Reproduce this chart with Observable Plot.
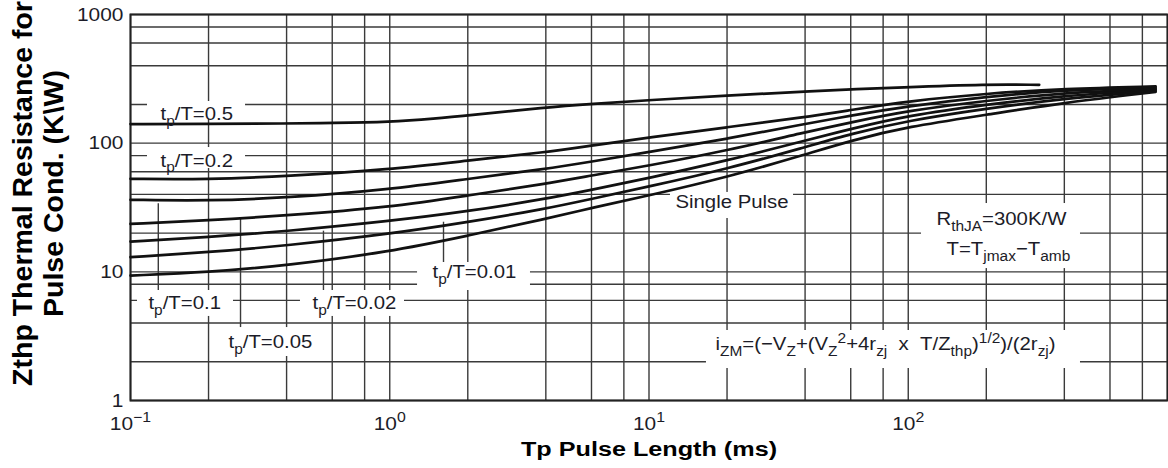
<!DOCTYPE html>
<html><head><meta charset="utf-8">
<script src="https://cdn.jsdelivr.net/npm/d3@7"></script>
<script src="https://cdn.jsdelivr.net/npm/@observablehq/plot@0.6"></script>
<style>html,body{margin:0;padding:0;background:#fff;} #chart svg{display:block}</style>
</head><body><div id="chart"></div>
<script>
// ---------- data ----------
const pulseLength = [0.1, 0.2, 0.4, 1, 2, 4, 6, 10, 20, 40, 60, 100, 200, 400, 900];
const z02     = [52.8, 52.2, 55.3, 62.4, 73.2, 85, 95.8, 110.6, 133, 159, 181, 212, 243, 265, 276];
const z01     = [36.3, 35.6, 37.6, 43.6, 52.8, 63.1, 71.9, 85.4, 108, 141, 164, 194, 230, 259, 270];
const z005    = [23.6, 25.1, 27.4, 31.8, 39.2, 48.3, 56, 66.9, 87.6, 121.5, 145, 179, 214, 247, 264];
const z002    = [17.2, 18.6, 20.7, 24.8, 29.5, 36.9, 43.4, 53.6, 73.2, 104.7, 129, 164, 199.5, 234, 260];
const z001    = [13, 14.2, 16, 19.7, 24.3, 30.9, 36.9, 46, 63.1, 93, 118, 150, 186, 222, 255];
const zSingle = [9.36, 9.93, 11.2, 14.3, 19.1, 25.8, 31.4, 39.2, 54.3, 81.5, 104.7, 134.6, 166, 207, 250];
const pulseLength05 = [0.1, 0.2, 0.4, 0.6, 1, 1.5, 2, 4, 6, 10, 20, 40, 100, 200, 320];
const z05     = [140.7, 141.2, 142.2, 143.3, 146, 155, 164, 190, 202, 216, 234, 253, 273, 287, 284];

const xTicks = [0.1, 1, 10, 100];
const xTickLabels = ["10^{−1}", "10^{0}", "10^{1}", "10^{2}"];
const yTicks = [1, 10, 100, 1000];
const yTickLabels = ["1", "10", "100", "1000"];
const xGrid = [0.1, 0.2, 0.4, 0.6, 0.8, 1, 2, 4, 6, 8, 10, 20, 40, 60, 80, 100, 200, 400, 600, 800, 1000];
const yGrid = [1, 2, 4, 6, 8, 10, 20, 40, 60, 80, 100, 200, 400, 600, 800, 1000];

// annotations (data coordinates)
const labelText = ["t_{p}/T=0.5", "t_{p}/T=0.2", "t_{p}/T=0.1", "t_{p}/T=0.05", "t_{p}/T=0.02", "t_{p}/T=0.01",
  "Single Pulse", "R_{thJA}=300K/W", "T=T_{jmax}−T_{amb}",
  "i_{ZM}=(−V_{Z}+(V_{Z}^{2}+4r_{zj}\u00a0\u00a0x\u00a0\u00a0T/Z_{thp})^{1/2})/(2r_{zj})"];
const labelX = [0.1305, 0.1305, 0.1173, 0.2388, 0.5035, 1.462, 12.65, 128.5, 140.5, 18.05];
const labelY = [167, 72.7, 5.72, 2.824, 5.72, 9.88, 34.6, 25.5, 14.9, 2.724];
const boxX1 = [0.1163, 0.1163, 0.1064, 0.2346, 0.4525, 1.28, 12.1, 112.5, 16.66];
const boxX2 = [0.2778, 0.2778, 0.2496, 0.522, 1.14, 3.49, 36.1, 461.7, 461.7];
const boxY1 = [152.7, 63.5, 4.5, 2.198, 4.5, 7.16, 25.97, 10.6, 1.773];
const boxY2 = [210.8, 92.5, 7.16, 3.69, 7.16, 11.82, 41.4, 33.96, 3.5];
const leaderX = [0.128, 0.2657, 0.555, 1.612];
const leaderTop = [33.8, 25.8, 20.7, 24.3];
const leaderBottom = [7.16, 3.69, 7.16, 11.82];

// ---------- build tables ----------
const seriesDefs = [
  {name: "0.5", t: pulseLength05, z: z05},
  {name: "0.2", t: pulseLength, z: z02},
  {name: "0.1", t: pulseLength, z: z01},
  {name: "0.05", t: pulseLength, z: z005},
  {name: "0.02", t: pulseLength, z: z002},
  {name: "0.01", t: pulseLength, z: z001},
  {name: "single", t: pulseLength, z: zSingle}
];
const curves = [];
seriesDefs.forEach(s => s.t.forEach((t, i) => curves.push({series: s.name, t, z: s.z[i]})));
const boxes = boxX1.map((x1, i) => ({x1, x2: boxX2[i], y1: boxY1[i], y2: boxY2[i]}));
const leaders = leaderX.map((x, i) => ({x, y1: leaderBottom[i], y2: leaderTop[i]}));

const gridColor = "#3a3a3a";
const chart = Plot.plot({
  width: 1168, height: 468,
  marginLeft: 130, marginRight: 1, marginTop: 14, marginBottom: 68,
  style: {fontFamily: "'Liberation Sans', Arial, Helvetica, sans-serif", fontSize: "19px", color: "#1c1c28", background: "white"},
  x: {type: "log", domain: [0.1, 1000], ticks: xTicks, tickFormat: d => xTickLabels[xTicks.indexOf(d)], tickSize: 0, tickPadding: 16, label: null},
  y: {type: "log", domain: [1, 1000], ticks: yTicks, tickFormat: d => yTickLabels[yTicks.indexOf(d)], tickSize: 0, tickPadding: 7, label: null},
  marks: [
    Plot.ruleX(xGrid, {stroke: gridColor, strokeWidth: 1.4}),
    Plot.ruleY(yGrid, {stroke: gridColor, strokeWidth: 1.4}),
    Plot.rect(boxes, {x1: "x1", x2: "x2", y1: "y1", y2: "y2", fill: "white"}),
    Plot.ruleX(leaders, {x: "x", y1: "y1", y2: "y2", stroke: gridColor, strokeWidth: 1.4}),
    Plot.frame({stroke: "#222", strokeWidth: 2}),
    Plot.line(curves, {x: "t", y: "z", z: "series", stroke: "#111", strokeWidth: 2.7, curve: "basis"}),
    Plot.text(labelText, {x: (d, i) => labelX[i], y: (d, i) => labelY[i], text: d => d, textAnchor: "start", lineAnchor: "middle", fontSize: 18.5, fill: "#1c1c28"}),
    Plot.text(["Tp Pulse Length (ms)"], {frameAnchor: "bottom", dy: 49, text: d => d, lineAnchor: "middle", textAnchor: "middle", fontSize: 21, fontWeight: "bold", fill: "#000"}),
    Plot.text(["Zthp Thermal Resistance for\nPulse Cond. (K\\W)"], {frameAnchor: "left", rotate: -90, dx: -93, dy: -14, text: d => d, lineHeight: 1.1, lineAnchor: "middle", textAnchor: "middle", fontSize: 28.5, fontWeight: "bold", fill: "#000"})
  ]
});
document.getElementById("chart").appendChild(chart);

// ---------- sub/superscripts and horizontal text stretch ----------
const NS = "http://www.w3.org/2000/svg";
function rich(t) {
  const s = t.textContent;
  if (!/[_^]\{/.test(s)) return;
  const fs = parseFloat(getComputedStyle(t).fontSize) || 18;
  while (t.firstChild) t.removeChild(t.firstChild);
  const re = /([_^])\{([^}]*)\}|([^_^]+)/g;
  let m, cur = 0;
  while ((m = re.exec(s))) {
    const ts = document.createElementNS(NS, "tspan");
    let target;
    if (m[1]) { ts.textContent = m[2]; ts.setAttribute("font-size", (fs * 0.76) + "px"); target = m[1] === "_" ? fs * 0.3 : -fs * 0.42; }
    else { ts.textContent = m[3]; target = 0; }
    if (target !== cur) { ts.setAttribute("dy", target - cur); cur = target; }
    t.appendChild(ts);
  }
}
chart.querySelectorAll("text").forEach(t => {
  const content = t.textContent;
  let sx = 1.1;
  if (content.includes("Zthp")) sx = 1;
  else if (content.includes("Tp Pulse Length")) sx = 1.2;
  rich(t);
  if (sx !== 1) {
    const tr = t.getAttribute("transform") || "";
    t.setAttribute("transform", (tr + ` scale(${sx},1)`).trim());
  }
});
</script></body></html>
